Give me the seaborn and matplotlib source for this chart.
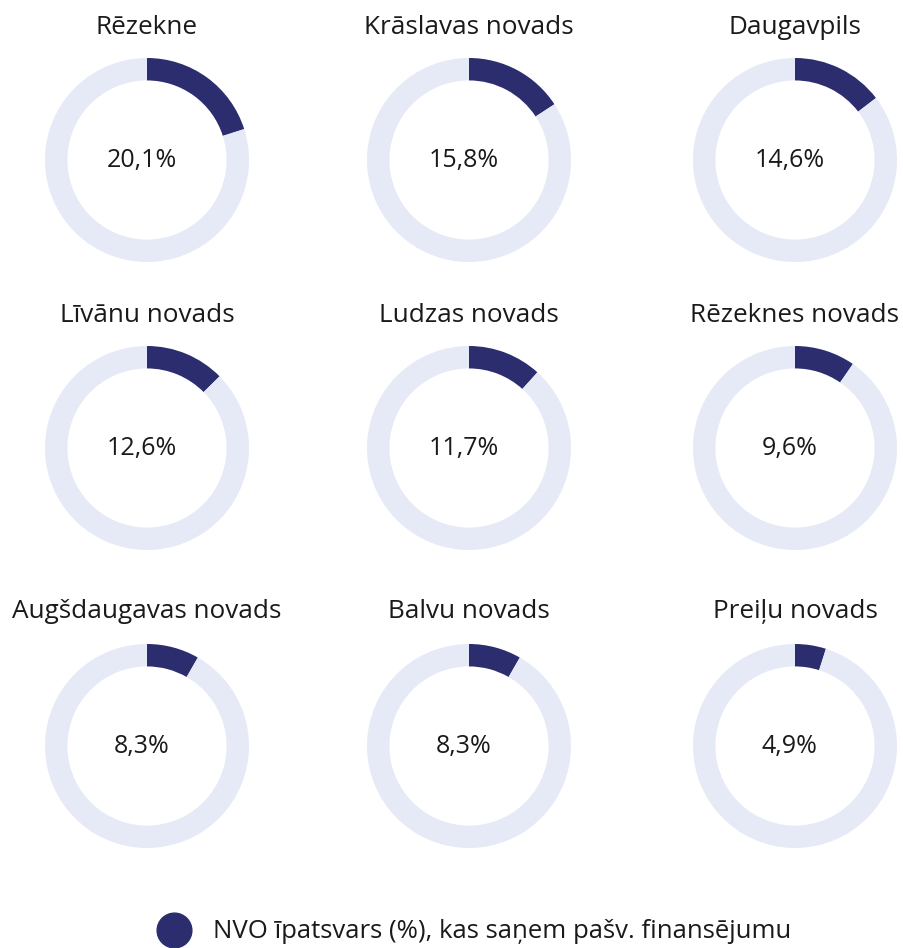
import matplotlib
matplotlib.use("Agg")
import matplotlib.pyplot as plt
from matplotlib.lines import Line2D
import seaborn as sns

# ── Data ──────────────────────────────────────────────────────────────────────
REGIONS = [
    "Rēzekne", "Krāslavas novads", "Daugavpils",
    "Līvānu novads", "Ludzas novads", "Rēzeknes novads",
    "Augšdaugavas novads", "Balvu novads", "Preiļu novads",
]
SHARES = [20.1, 15.8, 14.6, 12.6, 11.7, 9.6, 8.3, 8.3, 4.9]
LEGEND_LABEL = "NVO īpatsvars (%), kas saņem pašv. finansējumu"

DARK = "#2b2d6e"
LIGHT = "#e6eaf6"

sns.set_theme(style="white")
plt.rcParams["font.family"] = ["Open Sans", "DejaVu Sans"]

W, H = 904, 948
fig = plt.figure(figsize=(W / 100, H / 100), dpi=100)

col_x = [147, 469, 795]
row_y = [160, 448, 746]
title_y = [27, 316, 612]
R = 102

for i, (name, val) in enumerate(zip(REGIONS, SHARES)):
    r, c = divmod(i, 3)
    cx, cy = col_x[c], row_y[r]
    ax = fig.add_axes([(cx - R) / W, 1 - (cy + R) / H, 2 * R / W, 2 * R / H])
    ax.pie([val, 100 - val], colors=[DARK, LIGHT], startangle=90,
           counterclock=False, radius=1.0,
           wedgeprops=dict(width=0.22, linewidth=0))
    ax.set_xlim(-1, 1)
    ax.set_ylim(-1, 1)
    ax.set_aspect("equal")
    ax.axis("off")
    ax.text(-0.05, 0, f"{val:.1f}%".replace(".", ","), ha="center", va="center",
            fontsize=18, color="#1a1a1a")
    fig.text(cx / W, 1 - title_y[r] / H, name, ha="center", va="center",
             fontsize=18.8, color="#1a1a1a")

handle = Line2D([], [], marker="o", linestyle="none", markersize=25,
                markerfacecolor=DARK, markeredgecolor=DARK)
fig.legend([handle], [LEGEND_LABEL], loc="center", bbox_to_anchor=(470 / W, 1 - 932 / H),
           frameon=False, fontsize=18.5, handletextpad=0.5, labelcolor="#1a1a1a")

fig.savefig("out.png", dpi=100, facecolor="white")
